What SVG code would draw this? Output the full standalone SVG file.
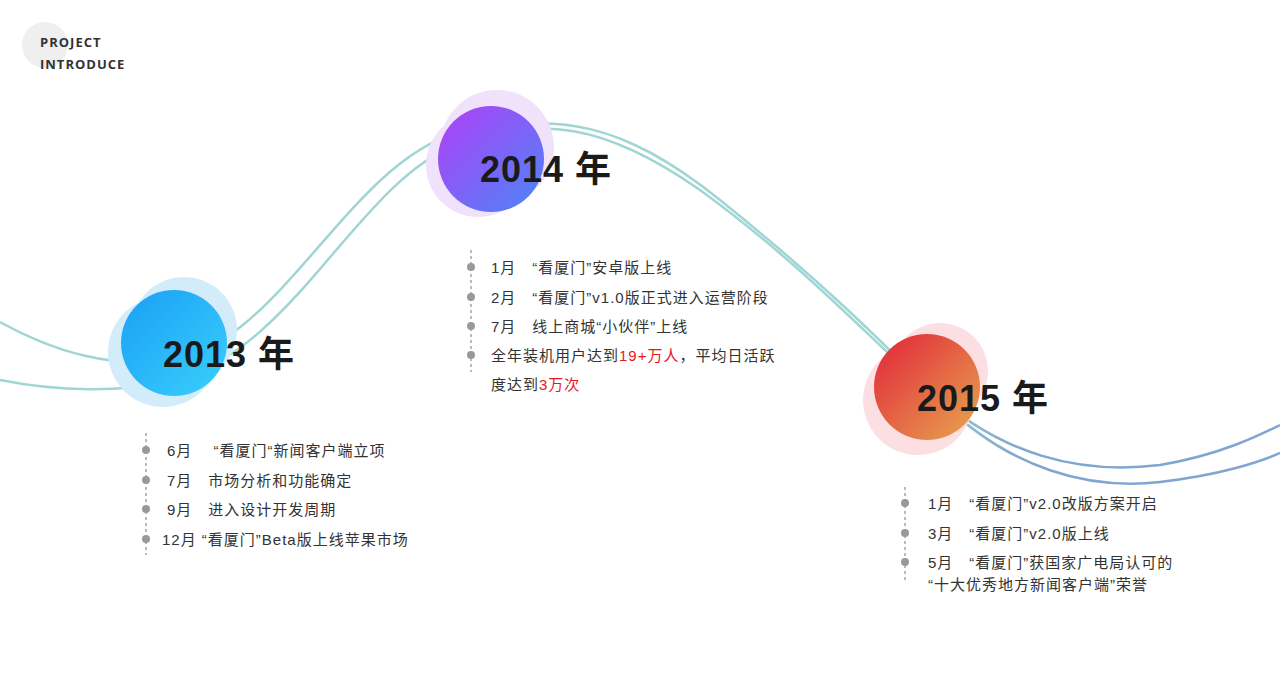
<svg xmlns="http://www.w3.org/2000/svg" width="1280" height="695" viewBox="0 0 1280 695">
<style>
.t{font-family:"Liberation Sans","Noto Sans CJK SC",sans-serif;font-size:15px;fill:#333;letter-spacing:1px}
.y{font-family:"Liberation Sans","Noto Sans CJK SC",sans-serif;font-size:36px;font-weight:bold;fill:#1a1a1a;letter-spacing:1px}
.r{fill:#e8161b}
.d{fill:#999}
.v{stroke:#777;stroke-dasharray:3 3;stroke-width:1}
.h{font-family:"Open Sans","Liberation Sans",sans-serif;font-size:13px;font-weight:bold;fill:#333;letter-spacing:1px}
</style>
<defs>
<linearGradient id="g1" x1="0" y1="0" x2="1" y2="1"><stop offset="0" stop-color="#1a9ff5"/><stop offset="1" stop-color="#3ad0fb"/></linearGradient>
<linearGradient id="g2" x1="0" y1="0" x2="1" y2="1"><stop offset="0" stop-color="#b23ff7"/><stop offset="1" stop-color="#4b86f7"/></linearGradient>
<linearGradient id="g3" x1="0" y1="0" x2="1" y2="1"><stop offset="0" stop-color="#e2233a"/><stop offset="1" stop-color="#e7a84f"/></linearGradient>
<linearGradient id="lc" x1="0" y1="0" x2="1" y2="0"><stop offset="0" stop-color="#9fd6d4"/><stop offset="0.7" stop-color="#9fd6d4"/><stop offset="0.8" stop-color="#7fa6d0"/><stop offset="1" stop-color="#7fa6d0"/></linearGradient>
</defs>
<circle cx="45" cy="45" r="23" fill="#efefef"/>
<text class="h" x="40" y="47">PROJECT</text>
<text class="h" x="40" y="69">INTRODUCE</text>
<g id="connectors" fill="none" stroke="url(#lc)" stroke-width="2.5">
<path d="M0,322 C60,355 110,365 160,362 C280,355 350,150 470,130 C560,115 620,120 720,200 C820,280 880,340 930,390 C1000,455 1080,475 1160,465 C1220,455 1260,435 1280,425"/>
<path d="M0,380 C60,392 120,392 170,382 C300,350 360,170 470,140 C540,120 600,120 700,190 C810,270 880,350 940,400 C1010,470 1090,490 1160,482 C1220,475 1260,462 1280,453"/>
</g>
<g id="n2013">
<circle cx="163" cy="352" r="55" fill="#d3ecfa"/><circle cx="184" cy="330" r="53" fill="#d3ecfa"/>
<circle cx="174" cy="343" r="53" fill="url(#g1)"/>
<text class="y" x="163" y="367">2013 年</text>
</g>
<g id="n2014">
<circle cx="478" cy="165" r="52" fill="#f0e2fb"/><circle cx="497" cy="147" r="57" fill="#f0e2fb"/>
<circle cx="491" cy="159" r="53" fill="url(#g2)"/>
<text class="y" x="480" y="182">2014 年</text>
</g>
<g id="n2015">
<circle cx="918" cy="400" r="55" fill="#fcdfe2"/><circle cx="940" cy="371" r="48" fill="#fcdfe2"/>
<circle cx="927" cy="387" r="53" fill="url(#g3)"/>
<text class="y" x="917" y="411">2015 年</text>
</g>
<g id="list2013">
<line class="v" x1="146" y1="433" x2="146" y2="555"/>
<circle class="d" cx="146" cy="450" r="4"/><circle class="d" cx="146" cy="480" r="4"/><circle class="d" cx="146" cy="509" r="4"/><circle class="d" cx="146" cy="539" r="4"/>
<text class="t" x="167" y="456">6月　 “看厦门“新闻客户端立项</text>
<text class="t" x="167" y="486">7月　市场分析和功能确定</text>
<text class="t" x="167" y="515">9月　进入设计开发周期</text>
<text class="t" x="162" y="545">12月 “看厦门”Beta版上线苹果市场</text>
</g>
<g id="list2014">
<line class="v" x1="471" y1="250" x2="471" y2="372"/>
<circle class="d" cx="471" cy="267" r="4"/><circle class="d" cx="471" cy="297" r="4"/><circle class="d" cx="471" cy="326" r="4"/><circle class="d" cx="471" cy="355" r="4"/>
<text class="t" x="491" y="273">1月　“看厦门”安卓版上线</text>
<text class="t" x="491" y="303">2月　“看厦门”v1.0版正式进入运营阶段</text>
<text class="t" x="491" y="332">7月　线上商城“小伙伴”上线</text>
<text class="t" x="491" y="361">全年装机用户达到<tspan class="r">19+万人</tspan>，平均日活跃</text>
<text class="t" x="491" y="390">度达到<tspan class="r">3万次</tspan></text>
</g>
<g id="list2015">
<line class="v" x1="905" y1="487" x2="905" y2="580"/>
<circle class="d" cx="905" cy="503" r="4"/><circle class="d" cx="905" cy="533" r="4"/><circle class="d" cx="905" cy="562" r="4"/>
<text class="t" x="928" y="509">1月　“看厦门”v2.0改版方案开启</text>
<text class="t" x="928" y="539">3月　“看厦门”v2.0版上线</text>
<text class="t" x="928" y="568">5月　“看厦门”获国家广电局认可的</text>
<text class="t" x="928" y="590">“十大优秀地方新闻客户端”荣誉</text>
</g>
</svg>
